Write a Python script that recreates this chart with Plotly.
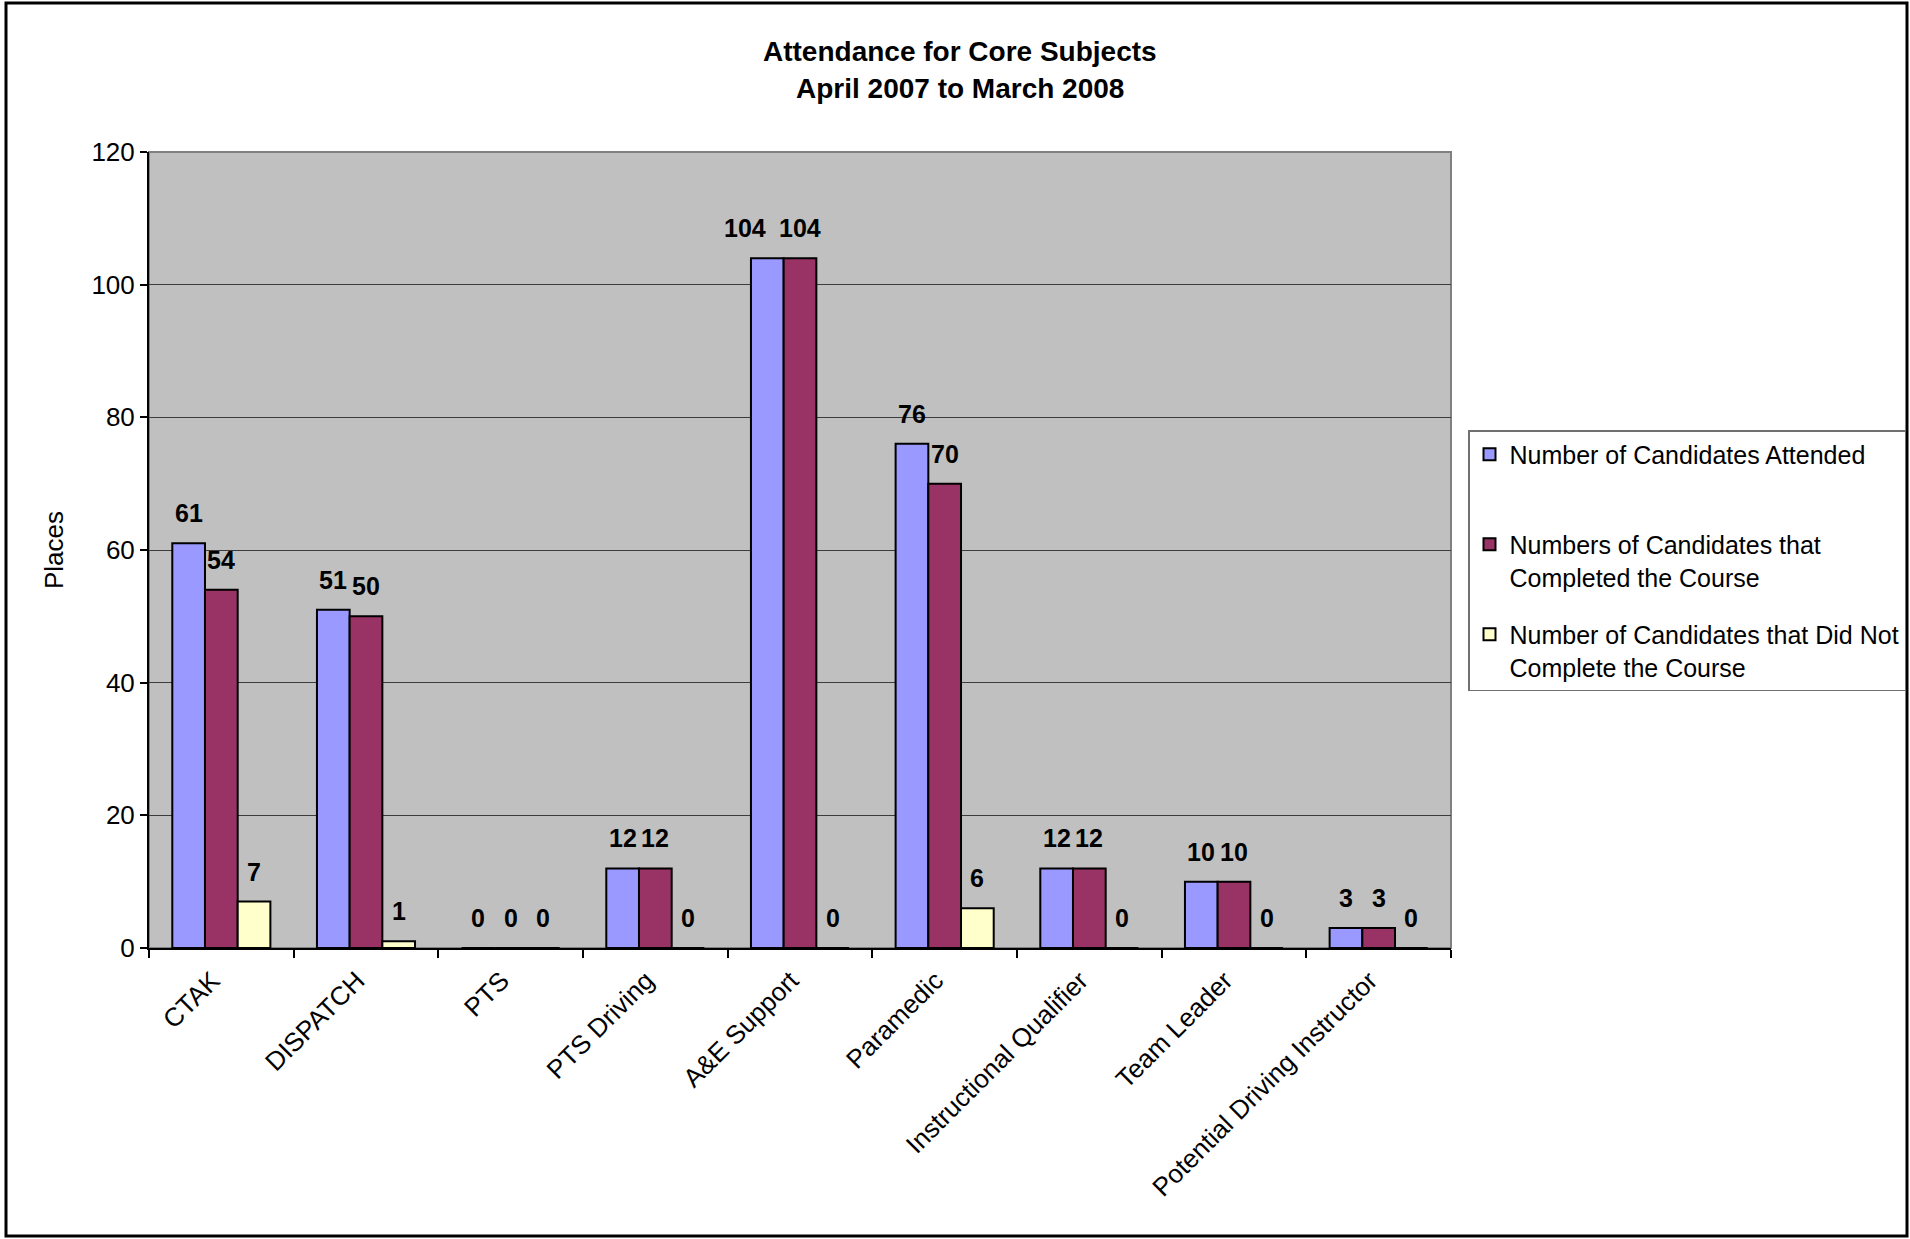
import plotly.graph_objects as go

categories = ["CTAK", "DISPATCH", "PTS", "PTS Driving", "A&E Support", "Paramedic",
              "Instructional Qualifier", "Team Leader", "Potential Driving Instructor"]
attended = [61, 51, 0, 12, 104, 76, 12, 10, 3]
completed = [54, 50, 0, 12, 104, 70, 12, 10, 3]
not_completed = [7, 1, 0, 0, 0, 6, 0, 0, 0]

series_names = ["Number of Candidates Attended<br> ",
                "Numbers of Candidates that<br>Completed the Course",
                "Number of Candidates that Did Not<br>Complete the Course"]
series_colors = ["#9999FF", "#993366", "#FFFFCC"]
series_values = [attended, completed, not_completed]

title_lines = ["Attendance for Core Subjects", "April 2007 to March 2008"]
y_ticks = [0, 20, 40, 60, 80, 100, 120]

FONT = "Liberation Sans, Arial, sans-serif"
W, H = 1910, 1239
L, R, T, B = 149, 1451, 152, 948  # plot area in px
pw, ph = R - L, B - T

def px_x(x):
    return (x - L) / pw

def px_y(y):
    return (B - y) / ph

bar_w = 0.226
offsets = [-bar_w, 0.0, bar_w]

fig = go.Figure()
annotations = []
for si, (name, color, vals, off) in enumerate(zip(series_names, series_colors, series_values, offsets)):
    xs = [i + off for i in range(len(categories))]
    fig.add_trace(go.Bar(
        x=xs, y=vals, width=bar_w, name=name,
        marker=dict(color=color, line=dict(color="black", width=2)),
        legendgroup=f"g{si}",
    ))
    for x, v in zip(xs, vals):
        # first-series labels with 3 digits are nudged left so they don't collide
        xshift = -22 if (si == 0 and len(str(v)) >= 3) else 0
        annotations.append(dict(
            x=x, y=v, xref="x", yref="y", text=str(v), showarrow=False,
            yanchor="bottom", yshift=14, xshift=xshift,
            font=dict(family=FONT, size=25, color="black", weight="bold"),
        ))

# title (two lines)
for line, yc in zip(title_lines, [51, 88]):
    annotations.append(dict(
        x=px_x(960), y=px_y(yc), xref="paper", yref="paper",
        text=line, showarrow=False, xanchor="center", yanchor="middle",
        font=dict(family=FONT, size=28, color="black", weight="bold"),
    ))

fig.update_layout(
    width=W, height=H,
    margin=dict(l=L, r=W - R, t=T, b=H - B, pad=0, autoexpand=False),
    paper_bgcolor="white", plot_bgcolor="#C0C0C0",
    barmode="overlay",
    showlegend=True,
    legend=dict(
        x=px_x(1468), y=px_y(430), xanchor="left", yanchor="top",
        bgcolor="white", bordercolor="#707070", borderwidth=1.5,
        font=dict(family=FONT, size=25, color="black"),
        valign="top", tracegroupgap=22, traceorder="grouped",
    ),
    annotations=annotations,
    font=dict(family=FONT, size=26, color="black"),
    shapes=[
        dict(type="rect", xref="paper", yref="paper", x0=0, x1=1, y0=0, y1=1,
             line=dict(color="#808080", width=2), layer="below"),
        dict(type="rect", xref="paper", yref="paper",
             x0=px_x(6), x1=px_x(1907), y0=px_y(1236), y1=px_y(3),
             line=dict(color="black", width=3)),
    ],
)

fig.update_xaxes(
    range=[-0.5, len(categories) - 0.5], automargin=False,
    tickmode="array", tickvals=list(range(len(categories))), ticktext=categories,
    tickangle=-45, ticks="", showgrid=False, zeroline=False,
    showline=True, linecolor="black", linewidth=2,
    ticklabelshift=-9, ticklabelstandoff=5,
    tickfont=dict(family=FONT, size=26, color="black"),
    minor=dict(tickmode="array", tickvals=[i - 0.5 for i in range(len(categories) + 1)],
               ticks="outside", ticklen=8, tickcolor="black", tickwidth=1.5, showgrid=False),
)
fig.update_yaxes(
    range=[0, 120], tickmode="array", tickvals=y_ticks, automargin=False,
    ticks="outside", ticklen=7, tickcolor="black", tickwidth=1.5,
    showline=True, linecolor="black", linewidth=2,
    showgrid=True, gridcolor="#3c3c3c", gridwidth=1,
    zeroline=False,
    tickfont=dict(family=FONT, size=26, color="black"),
    title=dict(text="Places", font=dict(family=FONT, size=26, color="black"), standoff=20),
)

fig.write_html("out.html")
